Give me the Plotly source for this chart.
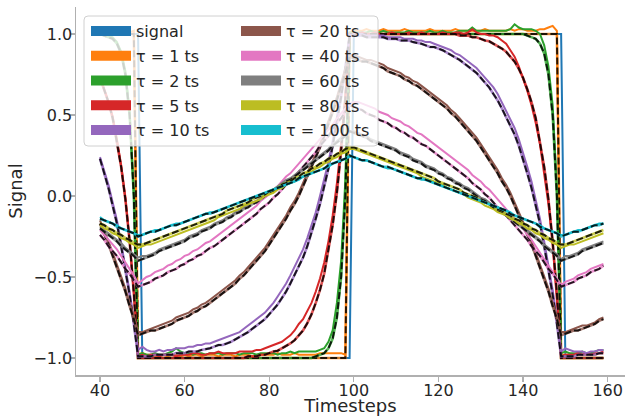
import plotly.graph_objects as go

timesteps = list(range(40, 160))

signal = ([1.0] * 10 + [-1.0] * 50 + [1.0] * 50 + [-1.0] * 10)

labels = ["signal", "τ = 1 ts", "τ = 2 ts", "τ = 5 ts", "τ = 10 ts",
          "τ = 20 ts", "τ = 40 ts", "τ = 60 ts", "τ = 80 ts", "τ = 100 ts"]
colors = ["#1f77b4", "#ff7f0e", "#2ca02c", "#d62728", "#9467bd",
          "#8c564b", "#e377c2", "#7f7f7f", "#bcbd22", "#17becf"]

model_tau1 = [1, 1, 1, 1, 1, 1, 1, 1, 1, -1,
              -1, -1, -1, -1, -1, -1, -1, -1, -1, -1,
              -1, -1, -1, -1, -1, -1, -1, -1, -1, -1,
              -1, -1, -1, -1, -1, -1, -1, -1, -1, -1,
              -1, -1, -1, -1, -1, -1, -1, -1, -1, -1,
              -1, -1, -1, -1, -1, -1, -1, -1, -1, 1,
              1, 1, 1, 1, 1, 1, 1, 1, 1, 1,
              1, 1, 1, 1, 1, 1, 1, 1, 1, 1,
              1, 1, 1, 1, 1, 1, 1, 1, 1, 1,
              1, 1, 1, 1, 1, 1, 1, 1, 1, 1,
              1, 1, 1, 1, 1, 1, 1, 1, 1, -1,
              -1, -1, -1, -1, -1, -1, -1, -1, -1, -1]
meas_tau1 = [1.0, 1.01, 1.0, 1.01, 1.02, 1.01, 1.02, 1.01, 1.02, -0.98,
             -0.97, -0.98, -0.98, -0.99, -0.98, -0.98, -0.99, -0.98, -0.98, -0.99,
             -0.98, -0.99, -0.98, -0.98, -0.99, -0.98, -0.98, -0.98, -0.99, -0.98,
             -0.98, -0.98, -0.99, -0.98, -0.98, -0.98, -0.99, -0.98, -0.98, -0.98,
             -0.98, -0.98, -0.97, -0.98, -0.98, -0.98, -0.97, -0.98, -0.98, -0.98,
             -0.98, -0.98, -0.97, -0.97, -0.97, -0.97, -0.97, -0.97, -0.98, 1.01,
             1.02, 1.02, 1.02, 1.03, 1.02, 1.02, 1.02, 1.03, 1.02, 1.02,
             1.02, 1.02, 1.03, 1.02, 1.02, 1.02, 1.02, 1.02, 1.03, 1.02,
             1.02, 1.02, 1.02, 1.02, 1.03, 1.02, 1.02, 1.02, 1.02, 1.02,
             1.02, 1.03, 1.02, 1.02, 1.02, 1.02, 1.02, 1.03, 1.02, 1.03,
             1.03, 1.02, 1.02, 1.02, 1.03, 1.03, 1.04, 1.05, 1.02, -0.98,
             -0.98, -0.98, -0.98, -0.97, -0.98, -0.98, -0.97, -0.98, -0.97, -0.97]

model_tau2 = [1.0, 0.99, 0.98, 0.97, 0.94, 0.88, 0.75, 0.5, 0.0, -1.0,
              -1, -1, -1, -1, -1, -1, -1, -1, -1, -1,
              -1, -1, -1, -1, -1, -1, -1, -1, -1, -1,
              -1, -1, -1, -1, -1, -1, -1, -1, -1, -1,
              -1, -1, -1, -1, -1, -1, -1, -1, -1, -1,
              -1.0, -0.99, -0.98, -0.97, -0.94, -0.88, -0.75, -0.5, 0.0, 1.0,
              1, 1, 1, 1, 1, 1, 1, 1, 1, 1,
              1, 1, 1, 1, 1, 1, 1, 1, 1, 1,
              1, 1, 1, 1, 1, 1, 1, 1, 1, 1,
              1, 1, 1, 1, 1, 1, 1, 1, 1, 1,
              1.0, 0.99, 0.98, 0.97, 0.94, 0.88, 0.75, 0.5, 0.0, -1.0,
              -1, -1, -1, -1, -1, -1, -1, -1, -1, -1]
meas_tau2 = [1.0, 0.99, 0.99, 0.98, 0.95, 0.89, 0.77, 0.52, 0.02, -0.98,
             -0.97, -0.98, -0.98, -0.97, -0.98, -0.98, -0.97, -0.96, -0.94, -0.96,
             -0.97, -0.97, -0.98, -0.97, -0.97, -0.98, -0.97, -0.97, -0.97, -0.98,
             -0.97, -0.97, -0.97, -0.98, -0.97, -0.97, -0.97, -0.98, -0.97, -0.97,
             -0.97, -0.97, -0.98, -0.97, -0.97, -0.96, -0.97, -0.96, -0.96, -0.96,
             -0.96, -0.96, -0.95, -0.94, -0.9, -0.83, -0.66, -0.4, 0.1, 1.01,
             1.01, 1.01, 1.01, 1.01, 1.02, 1.01, 1.01, 1.02, 1.01, 1.01,
             1.01, 1.01, 1.01, 1.02, 1.01, 1.01, 1.01, 1.01, 1.02, 1.01,
             1.01, 1.02, 1.01, 1.01, 1.01, 1.02, 1.02, 1.02, 1.04, 1.02,
             1.02, 1.02, 1.02, 1.02, 1.02, 1.02, 1.02, 1.03, 1.06, 1.04,
             1.03, 1.03, 1.03, 1.02, 1.0, 0.93, 0.8, 0.56, 0.05, -0.97,
             -0.96, -0.97, -0.97, -0.97, -0.96, -0.97, -0.97, -0.96, -0.95, -0.95]

model_tau5 = [0.73, 0.66, 0.58, 0.48, 0.34, 0.18, -0.02, -0.28, -0.6, -1.0,
              -1, -1, -1, -1, -1, -1, -1, -1, -1, -1,
              -1, -1, -1, -1, -1, -1, -1, -1, -1, -1,
              -1.0, -1.0, -1.0, -1.0, -1.0, -0.99, -0.99, -0.99, -0.98, -0.98,
              -0.97, -0.96, -0.955, -0.94, -0.93, -0.91, -0.89, -0.86, -0.83, -0.785,
              -0.73, -0.66, -0.58, -0.48, -0.34, -0.18, 0.02, 0.28, 0.6, 1.0,
              1, 1, 1, 1, 1, 1, 1, 1, 1, 1,
              1, 1, 1, 1, 1, 1, 1, 1, 1, 1,
              1.0, 1.0, 1.0, 1.0, 1.0, 0.99, 0.99, 0.99, 0.98, 0.98,
              0.97, 0.96, 0.955, 0.94, 0.93, 0.91, 0.89, 0.86, 0.83, 0.785,
              0.73, 0.66, 0.58, 0.48, 0.34, 0.18, -0.02, -0.28, -0.6, -1.0,
              -1, -1, -1, -1, -1, -1, -1, -1, -1, -1]
meas_tau5 = [0.72, 0.66, 0.58, 0.49, 0.35, 0.19, -0.01, -0.27, -0.59, -0.99,
             -0.98, -0.99, -0.98, -0.98, -0.99, -0.98, -0.98, -0.98, -0.99, -0.98,
             -0.98, -0.98, -0.97, -0.97, -0.98, -0.98, -0.97, -0.97, -0.96, -0.97,
             -0.97, -0.97, -0.97, -0.96, -0.96, -0.96, -0.96, -0.95, -0.95, -0.94,
             -0.93, -0.92, -0.91, -0.9, -0.88, -0.86, -0.83, -0.79, -0.76, -0.71,
             -0.66, -0.59, -0.51, -0.41, -0.28, -0.12, 0.08, 0.32, 0.62, 1.0,
             1.0, 1.0, 1.01, 1.0, 1.0, 1.01, 1.0, 1.0, 1.0, 1.01,
             1.0, 1.0, 1.0, 1.01, 1.0, 1.0, 1.01, 1.0, 1.0, 1.0,
             1.0, 1.01, 1.0, 1.0, 1.01, 1.01, 1.0, 1.01, 1.03, 1.01,
             1.0, 1.0, 0.99, 0.99, 0.98, 0.96, 0.94, 0.9, 0.86, 0.8,
             0.73, 0.65, 0.56, 0.45, 0.32, 0.15, -0.05, -0.3, -0.62, -0.99,
             -0.98, -0.98, -0.98, -0.97, -0.98, -0.97, -0.98, -0.97, -0.97, -0.96]

model_tau10 = [0.23, 0.14, 0.05, -0.06, -0.17, -0.31, -0.45, -0.61, -0.79, -0.99,
               -0.99, -0.99, -0.99, -0.98, -0.98, -0.98, -0.98, -0.98, -0.97, -0.97,
               -0.97, -0.96, -0.96, -0.96, -0.95, -0.945, -0.94, -0.93, -0.92, -0.92,
               -0.91, -0.9, -0.885, -0.87, -0.86, -0.84, -0.82, -0.8, -0.78, -0.76,
               -0.73, -0.7, -0.67, -0.63, -0.59, -0.54, -0.49, -0.44, -0.38, -0.31,
               -0.23, -0.14, -0.05, 0.06, 0.17, 0.31, 0.45, 0.61, 0.79, 0.99,
               0.99, 0.99, 0.99, 0.98, 0.98, 0.98, 0.98, 0.98, 0.97, 0.97,
               0.97, 0.96, 0.96, 0.96, 0.95, 0.945, 0.94, 0.93, 0.92, 0.92,
               0.91, 0.9, 0.885, 0.87, 0.86, 0.84, 0.82, 0.8, 0.78, 0.76,
               0.73, 0.7, 0.67, 0.63, 0.59, 0.54, 0.49, 0.44, 0.38, 0.31,
               0.23, 0.14, 0.05, -0.06, -0.17, -0.31, -0.45, -0.61, -0.79, -0.99,
               -0.99, -0.99, -0.99, -0.98, -0.98, -0.98, -0.98, -0.98, -0.97, -0.97]
meas_tau10 = [0.24, 0.15, 0.07, -0.04, -0.15, -0.29, -0.43, -0.59, -0.77, -0.95,
              -0.93, -0.95, -0.96, -0.96, -0.95, -0.96, -0.95, -0.95, -0.94, -0.94,
              -0.94, -0.93, -0.93, -0.92, -0.92, -0.91, -0.91, -0.9, -0.89, -0.88,
              -0.87, -0.86, -0.85, -0.84, -0.82, -0.8, -0.78, -0.76, -0.74, -0.72,
              -0.69, -0.66, -0.62, -0.58, -0.54, -0.49, -0.44, -0.39, -0.33, -0.26,
              -0.18, -0.1, 0.0, 0.1, 0.21, 0.34, 0.48, 0.63, 0.8, 0.99,
              1.0, 1.0, 1.0, 0.99, 0.99, 0.99, 0.99, 0.99, 0.98, 0.98,
              0.98, 0.98, 0.97, 0.97, 0.97, 0.96, 0.96, 0.95, 0.95, 0.94,
              0.93, 0.92, 0.91, 0.9, 0.88, 0.87, 0.85, 0.83, 0.81, 0.79,
              0.76, 0.73, 0.7, 0.67, 0.63, 0.58, 0.53, 0.48, 0.42, 0.35,
              0.27, 0.18, 0.09, -0.02, -0.14, -0.28, -0.42, -0.58, -0.76, -0.96,
              -0.94, -0.95, -0.96, -0.96, -0.96, -0.97, -0.96, -0.96, -0.95, -0.95]

model_tau20 = [-0.17, -0.23, -0.3, -0.37, -0.44, -0.51, -0.59, -0.68, -0.76, -0.86,
               -0.85, -0.84, -0.83, -0.83, -0.82, -0.81, -0.8, -0.79, -0.77, -0.76,
               -0.75, -0.74, -0.72, -0.71, -0.69, -0.68, -0.66, -0.64, -0.62, -0.6,
               -0.58, -0.56, -0.54, -0.51, -0.49, -0.46, -0.43, -0.4, -0.37, -0.34,
               -0.3, -0.26, -0.22, -0.18, -0.14, -0.09, -0.05, 0.0, 0.06, 0.11,
               0.17, 0.23, 0.3, 0.37, 0.44, 0.51, 0.59, 0.68, 0.76, 0.86,
               0.85, 0.84, 0.83, 0.83, 0.82, 0.81, 0.8, 0.79, 0.77, 0.76,
               0.75, 0.74, 0.72, 0.71, 0.69, 0.68, 0.66, 0.64, 0.62, 0.6,
               0.58, 0.56, 0.54, 0.51, 0.49, 0.46, 0.43, 0.4, 0.37, 0.34,
               0.3, 0.26, 0.22, 0.18, 0.14, 0.09, 0.05, 0.0, -0.06, -0.11,
               -0.17, -0.23, -0.3, -0.37, -0.44, -0.51, -0.59, -0.68, -0.76, -0.86,
               -0.85, -0.84, -0.83, -0.83, -0.82, -0.81, -0.8, -0.79, -0.77, -0.76]
meas_tau20 = [-0.15, -0.21, -0.28, -0.35, -0.42, -0.49, -0.57, -0.66, -0.74, -0.84,
              -0.84, -0.83, -0.82, -0.81, -0.8, -0.79, -0.78, -0.77, -0.75, -0.74,
              -0.73, -0.72, -0.7, -0.69, -0.67, -0.66, -0.64, -0.62, -0.6, -0.58,
              -0.56, -0.54, -0.52, -0.49, -0.47, -0.44, -0.41, -0.38, -0.35, -0.32,
              -0.28, -0.24, -0.2, -0.16, -0.12, -0.07, -0.03, 0.02, 0.08, 0.13,
              0.19, 0.25, 0.32, 0.39, 0.46, 0.53, 0.61, 0.7, 0.78, 0.87,
              0.87, 0.86, 0.85, 0.84, 0.84, 0.83, 0.82, 0.81, 0.79, 0.78,
              0.77, 0.76, 0.74, 0.73, 0.71, 0.7, 0.68, 0.66, 0.64, 0.62,
              0.6, 0.58, 0.56, 0.53, 0.51, 0.48, 0.45, 0.42, 0.39, 0.36,
              0.32, 0.28, 0.24, 0.2, 0.16, 0.11, 0.07, 0.02, -0.04, -0.09,
              -0.15, -0.21, -0.28, -0.35, -0.42, -0.49, -0.57, -0.66, -0.74, -0.84,
              -0.84, -0.83, -0.82, -0.81, -0.8, -0.8, -0.79, -0.78, -0.76, -0.75]

model_tau40 = [-0.24, -0.27, -0.31, -0.34, -0.37, -0.41, -0.45, -0.48, -0.52, -0.56,
               -0.55, -0.54, -0.53, -0.51, -0.5, -0.49, -0.47, -0.46, -0.45, -0.43,
               -0.42, -0.4, -0.39, -0.37, -0.36, -0.34, -0.32, -0.31, -0.29, -0.27,
               -0.25, -0.23, -0.21, -0.19, -0.17, -0.15, -0.13, -0.11, -0.08, -0.06,
               -0.04, -0.01, 0.01, 0.04, 0.07, 0.1, 0.12, 0.15, 0.18, 0.21,
               0.24, 0.27, 0.31, 0.34, 0.37, 0.41, 0.45, 0.48, 0.52, 0.56,
               0.55, 0.54, 0.53, 0.51, 0.5, 0.49, 0.47, 0.46, 0.45, 0.43,
               0.42, 0.4, 0.39, 0.37, 0.36, 0.34, 0.32, 0.31, 0.29, 0.27,
               0.25, 0.23, 0.21, 0.19, 0.17, 0.15, 0.13, 0.11, 0.08, 0.06,
               0.04, 0.01, -0.01, -0.04, -0.07, -0.1, -0.12, -0.15, -0.18, -0.21,
               -0.24, -0.27, -0.31, -0.34, -0.37, -0.41, -0.45, -0.48, -0.52, -0.56,
               -0.55, -0.54, -0.53, -0.51, -0.5, -0.49, -0.47, -0.46, -0.45, -0.43]
meas_tau40 = [-0.21, -0.24, -0.27, -0.3, -0.33, -0.37, -0.41, -0.45, -0.49, -0.54,
              -0.52, -0.5, -0.49, -0.47, -0.46, -0.45, -0.43, -0.42, -0.4, -0.39,
              -0.37, -0.36, -0.34, -0.33, -0.31, -0.29, -0.28, -0.26, -0.24, -0.22,
              -0.2, -0.18, -0.16, -0.14, -0.12, -0.1, -0.08, -0.06, -0.03, -0.01,
              0.01, 0.04, 0.06, 0.09, 0.12, 0.14, 0.17, 0.2, 0.23, 0.26,
              0.29, 0.32, 0.35, 0.38, 0.41, 0.44, 0.48, 0.51, 0.54, 0.57,
              0.58, 0.58, 0.57, 0.56, 0.55, 0.54, 0.52, 0.51, 0.5, 0.48,
              0.47, 0.46, 0.44, 0.43, 0.41, 0.39, 0.38, 0.36, 0.34, 0.32,
              0.3, 0.28, 0.26, 0.24, 0.22, 0.2, 0.18, 0.16, 0.13, 0.11,
              0.09, 0.06, 0.04, 0.01, -0.02, -0.05, -0.08, -0.11, -0.14, -0.17,
              -0.2, -0.24, -0.27, -0.31, -0.35, -0.39, -0.43, -0.47, -0.51, -0.55,
              -0.53, -0.52, -0.51, -0.49, -0.48, -0.47, -0.45, -0.44, -0.43, -0.42]

model_tau60 = [-0.2, -0.22, -0.24, -0.26, -0.28, -0.31, -0.33, -0.35, -0.37, -0.4,
               -0.39, -0.38, -0.37, -0.36, -0.34, -0.33, -0.32, -0.31, -0.3, -0.29,
               -0.28, -0.26, -0.25, -0.24, -0.22, -0.21, -0.2, -0.18, -0.17, -0.16,
               -0.14, -0.13, -0.11, -0.1, -0.08, -0.07, -0.05, -0.04, -0.02, 0.0,
               0.02, 0.03, 0.05, 0.07, 0.09, 0.1, 0.12, 0.14, 0.16, 0.18,
               0.2, 0.22, 0.24, 0.26, 0.28, 0.31, 0.33, 0.35, 0.37, 0.4,
               0.39, 0.38, 0.37, 0.36, 0.34, 0.33, 0.32, 0.31, 0.3, 0.29,
               0.28, 0.26, 0.25, 0.24, 0.22, 0.21, 0.2, 0.18, 0.17, 0.16,
               0.14, 0.13, 0.11, 0.1, 0.08, 0.07, 0.05, 0.04, 0.02, 0.0,
               -0.02, -0.03, -0.05, -0.07, -0.09, -0.1, -0.12, -0.14, -0.16, -0.18,
               -0.2, -0.22, -0.24, -0.26, -0.28, -0.31, -0.33, -0.35, -0.37, -0.4,
               -0.39, -0.38, -0.37, -0.36, -0.34, -0.33, -0.32, -0.31, -0.3, -0.29]
meas_tau60 = [-0.19, -0.21, -0.23, -0.25, -0.27, -0.29, -0.32, -0.34, -0.36, -0.38,
              -0.37, -0.37, -0.36, -0.35, -0.33, -0.32, -0.31, -0.3, -0.29, -0.28,
              -0.27, -0.25, -0.24, -0.23, -0.21, -0.2, -0.19, -0.17, -0.16, -0.15,
              -0.13, -0.12, -0.1, -0.09, -0.07, -0.06, -0.04, -0.03, -0.01, 0.01,
              0.03, 0.04, 0.06, 0.08, 0.1, 0.11, 0.13, 0.15, 0.17, 0.19,
              0.21, 0.23, 0.25, 0.27, 0.29, 0.32, 0.34, 0.36, 0.38, 0.4,
              0.4, 0.39, 0.38, 0.37, 0.35, 0.34, 0.33, 0.32, 0.31, 0.3,
              0.29, 0.27, 0.26, 0.25, 0.23, 0.22, 0.21, 0.19, 0.18, 0.17,
              0.15, 0.14, 0.12, 0.11, 0.09, 0.08, 0.06, 0.05, 0.03, 0.01,
              -0.01, -0.02, -0.04, -0.06, -0.08, -0.09, -0.11, -0.13, -0.15, -0.17,
              -0.19, -0.21, -0.23, -0.25, -0.27, -0.3, -0.32, -0.34, -0.36, -0.39,
              -0.37, -0.37, -0.36, -0.35, -0.33, -0.32, -0.31, -0.3, -0.29, -0.28]

model_tau80 = [-0.17, -0.18, -0.2, -0.21, -0.23, -0.24, -0.26, -0.27, -0.29, -0.3,
               -0.3, -0.29, -0.28, -0.27, -0.26, -0.25, -0.24, -0.23, -0.22, -0.21,
               -0.2, -0.19, -0.18, -0.17, -0.16, -0.15, -0.14, -0.13, -0.12, -0.11,
               -0.09, -0.08, -0.07, -0.06, -0.05, -0.04, -0.02, -0.01, 0.0, 0.01,
               0.03, 0.04, 0.05, 0.07, 0.08, 0.09, 0.11, 0.12, 0.14, 0.15,
               0.17, 0.18, 0.2, 0.21, 0.23, 0.24, 0.26, 0.27, 0.29, 0.3,
               0.3, 0.29, 0.28, 0.27, 0.26, 0.25, 0.24, 0.23, 0.22, 0.21,
               0.2, 0.19, 0.18, 0.17, 0.16, 0.15, 0.14, 0.13, 0.12, 0.11,
               0.09, 0.08, 0.07, 0.06, 0.05, 0.04, 0.02, 0.01, 0.0, -0.01,
               -0.03, -0.04, -0.05, -0.07, -0.08, -0.09, -0.11, -0.12, -0.14, -0.15,
               -0.17, -0.18, -0.2, -0.21, -0.23, -0.24, -0.26, -0.27, -0.29, -0.3,
               -0.3, -0.29, -0.28, -0.27, -0.26, -0.25, -0.24, -0.23, -0.22, -0.21]
meas_tau80 = [-0.18, -0.2, -0.21, -0.23, -0.24, -0.26, -0.27, -0.29, -0.3, -0.32,
              -0.31, -0.3, -0.3, -0.29, -0.28, -0.27, -0.26, -0.25, -0.24, -0.23,
              -0.22, -0.21, -0.2, -0.19, -0.18, -0.17, -0.16, -0.15, -0.13, -0.12,
              -0.11, -0.1, -0.09, -0.08, -0.06, -0.05, -0.04, -0.03, -0.02, 0.0,
              0.01, 0.02, 0.04, 0.05, 0.07, 0.08, 0.09, 0.11, 0.12, 0.14,
              0.15, 0.17, 0.18, 0.2, 0.21, 0.23, 0.24, 0.26, 0.27, 0.29,
              0.29, 0.28, 0.27, 0.26, 0.25, 0.24, 0.23, 0.22, 0.21, 0.2,
              0.19, 0.18, 0.17, 0.16, 0.15, 0.14, 0.12, 0.11, 0.1, 0.09,
              0.08, 0.07, 0.05, 0.04, 0.03, 0.02, 0.01, -0.01, -0.02, -0.03,
              -0.04, -0.06, -0.07, -0.08, -0.1, -0.11, -0.12, -0.14, -0.15, -0.17,
              -0.18, -0.2, -0.21, -0.23, -0.24, -0.26, -0.27, -0.29, -0.3, -0.32,
              -0.31, -0.3, -0.3, -0.29, -0.28, -0.27, -0.26, -0.25, -0.24, -0.23]

model_tau100 = [-0.14, -0.15, -0.16, -0.17, -0.19, -0.2, -0.21, -0.22, -0.23, -0.25,
                -0.24, -0.23, -0.22, -0.22, -0.21, -0.2, -0.19, -0.18, -0.18, -0.17,
                -0.16, -0.15, -0.14, -0.13, -0.12, -0.11, -0.11, -0.1, -0.09, -0.08,
                -0.07, -0.06, -0.05, -0.04, -0.03, -0.02, -0.01, 0.0, 0.01, 0.02,
                0.03, 0.04, 0.05, 0.06, 0.07, 0.08, 0.09, 0.11, 0.12, 0.13,
                0.14, 0.15, 0.16, 0.17, 0.19, 0.2, 0.21, 0.22, 0.23, 0.25,
                0.24, 0.23, 0.22, 0.22, 0.21, 0.2, 0.19, 0.18, 0.18, 0.17,
                0.16, 0.15, 0.14, 0.13, 0.12, 0.11, 0.11, 0.1, 0.09, 0.08,
                0.07, 0.06, 0.05, 0.04, 0.03, 0.02, 0.01, 0.0, -0.01, -0.02,
                -0.03, -0.04, -0.05, -0.06, -0.07, -0.08, -0.09, -0.11, -0.12, -0.13,
                -0.14, -0.15, -0.16, -0.17, -0.19, -0.2, -0.21, -0.22, -0.23, -0.25,
                -0.24, -0.23, -0.22, -0.22, -0.21, -0.2, -0.19, -0.18, -0.18, -0.17]
meas_tau100 = [-0.13, -0.15, -0.16, -0.17, -0.18, -0.2, -0.21, -0.22, -0.23, -0.24,
               -0.24, -0.23, -0.22, -0.21, -0.21, -0.2, -0.19, -0.18, -0.17, -0.17,
               -0.16, -0.15, -0.14, -0.13, -0.12, -0.11, -0.1, -0.1, -0.09, -0.08,
               -0.07, -0.06, -0.05, -0.04, -0.03, -0.02, -0.01, 0.0, 0.01, 0.02,
               0.03, 0.04, 0.05, 0.06, 0.07, 0.08, 0.09, 0.1, 0.12, 0.13,
               0.14, 0.15, 0.16, 0.17, 0.18, 0.2, 0.21, 0.22, 0.23, 0.24,
               0.24, 0.23, 0.22, 0.22, 0.21, 0.2, 0.19, 0.18, 0.17, 0.17,
               0.16, 0.15, 0.14, 0.13, 0.12, 0.11, 0.1, 0.1, 0.09, 0.08,
               0.07, 0.06, 0.05, 0.04, 0.03, 0.02, 0.01, 0.0, -0.01, -0.02,
               -0.03, -0.04, -0.05, -0.06, -0.07, -0.08, -0.09, -0.1, -0.12, -0.13,
               -0.14, -0.15, -0.16, -0.17, -0.18, -0.2, -0.21, -0.22, -0.23, -0.24,
               -0.24, -0.23, -0.22, -0.21, -0.21, -0.2, -0.19, -0.18, -0.17, -0.17]

measured = [meas_tau1, meas_tau2, meas_tau5, meas_tau10, meas_tau20,
            meas_tau40, meas_tau60, meas_tau80, meas_tau100]
models = [model_tau1, model_tau2, model_tau5, model_tau10, model_tau20,
          model_tau40, model_tau60, model_tau80, model_tau100]

y_ticks = [-1.0, -0.5, 0.0, 0.5, 1.0]
y_ticktext = ["\u22121.0", "\u22120.5", "0.0", "0.5", "1.0"]
x_ticks = [40, 60, 80, 100, 120, 140, 160]

FONT = "DejaVu Sans"
fig = go.Figure()

fig.add_trace(go.Scatter(x=timesteps, y=signal, mode="lines",
                         line=dict(color=colors[0], width=2), showlegend=False))
for meas, mod, col in zip(measured, models, colors[1:]):
    fig.add_trace(go.Scatter(x=timesteps, y=meas, mode="lines",
                             line=dict(color=col, width=2), showlegend=False))
    fig.add_trace(go.Scatter(x=timesteps, y=mod, mode="lines",
                             line=dict(color=col, width=2.6), opacity=0.8,
                             showlegend=False))
    fig.add_trace(go.Scatter(x=timesteps, y=mod, mode="lines",
                             line=dict(color="black", width=2, dash="7px,3px"),
                             opacity=0.85, showlegend=False))

# legend handles
for i, (lab, col) in enumerate(zip(labels, colors)):
    fig.add_trace(go.Scatter(x=[None], y=[None], mode="lines", name=lab,
                             line=dict(color=col, width=11),
                             legend="legend" if i < 5 else "legend2",
                             legendgroup=lab, showlegend=True))

L, R, T, B = 76, 625, 7, 375
W, H = R - L, B - T
def px(xp):
    return (xp - L) / W
def py(yp):
    return (B - yp) / H

x0, x1, y0, y1 = px(84), px(378), py(146), py(16)
rx, ry = 4 / W, 4 / H
box_path = (f"M{x0+rx},{y1} L{x1-rx},{y1} Q{x1},{y1} {x1},{y1-ry} L{x1},{y0+ry} "
            f"Q{x1},{y0} {x1-rx},{y0} L{x0+rx},{y0} Q{x0},{y0} {x0},{y0+ry} "
            f"L{x0},{y1-ry} Q{x0},{y1} {x0+rx},{y1} Z")

legend_common = dict(bgcolor="rgba(0,0,0,0)", borderwidth=0,
                     font=dict(family=FONT, size=16, color="#262626"),
                     yanchor="top", xanchor="left", traceorder="grouped",
                     tracegroupgap=1, itemwidth=40)

fig.update_layout(
    width=625, height=416,
    margin=dict(l=L, r=625 - R, t=T, b=416 - B),
    paper_bgcolor="white", plot_bgcolor="white",
    font=dict(family=FONT, color="#262626"),
    shapes=[dict(type="path", xref="paper", yref="paper", path=box_path,
                 fillcolor="rgba(255,255,255,0.8)",
                 line=dict(color="#d0d0d0", width=1), layer="above")],
    legend=dict(x=px(86), y=py(14), **legend_common),
    legend2=dict(x=px(236), y=py(14), **legend_common),
    xaxis=dict(range=[34.33, 164.1], tickvals=x_ticks, ticks="outside",
               ticklen=5, tickwidth=1.3, tickcolor="#b0b0b0",
               showline=True, linecolor="#b0b0b0", linewidth=1.5,
               showgrid=False, zeroline=False, automargin=False,
               ticklabelstandoff=-5,
               tickfont=dict(family=FONT, size=16, color="#262626"),
               title=dict(text="Timesteps", font=dict(family=FONT, size=18, color="#262626"),
                          standoff=5)),
    yaxis=dict(range=[-1.105, 1.1667], tickvals=y_ticks, ticktext=y_ticktext,
               ticks="outside", ticklen=5, tickwidth=1.3, tickcolor="#b0b0b0",
               showline=True, linecolor="#b0b0b0", linewidth=1.5,
               showgrid=False, zeroline=False, automargin=False,
               ticklabelstandoff=-6,
               tickfont=dict(family=FONT, size=16, color="#262626"),
               title=dict(text="Signal", font=dict(family=FONT, size=18, color="#262626"),
                          standoff=6)),
)

fig.write_html("out.html",
               config={"displayModeBar": False, "staticPlot": True},
               post_script="document.body.style.margin='0px';"
                           "document.body.style.overflow='hidden';")
